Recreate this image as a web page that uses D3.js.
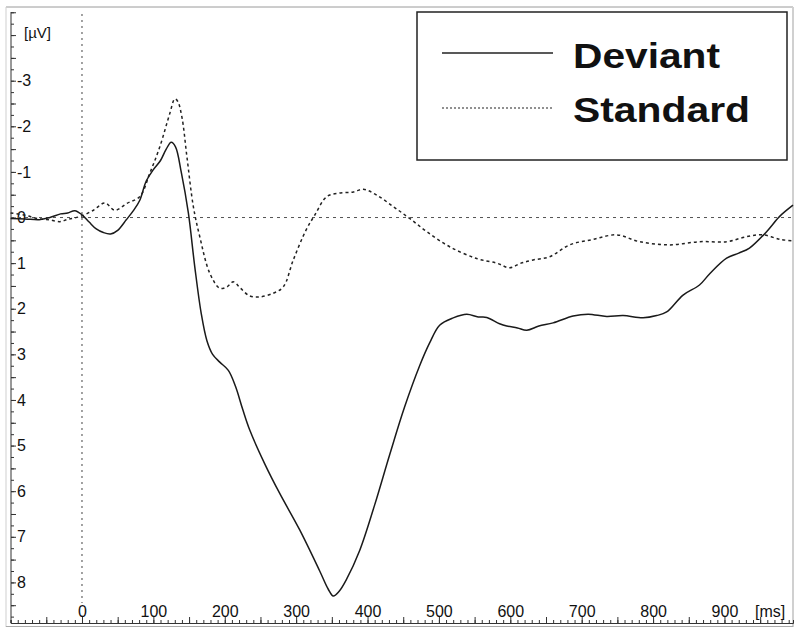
<!DOCTYPE html>
<meta charset="utf-8">
<script src="https://d3js.org/d3.v7.min.js"></script>
<style>
body { margin: 0; background: #fff; }
text { font-family: "Liberation Sans", Arial, sans-serif; fill: #111; }
.axis path, .axis line { stroke: #333; }
.axis text { font-size: 16px; fill: #111; }
</style>
<svg width="800" height="635"></svg>
<script>

// time (ms) / amplitude (µV), negative is up
var deviant = [
  [-100,0.02],[-80,0.03],[-60,0.05],[-45,0.0],[-30,-0.08],[-20,-0.1],[-10,-0.15],[0,-0.06],
  [10,0.1],[20,0.25],[30,0.33],[40,0.36],[50,0.28],[62,0.05],[72,-0.15],[81,-0.38],[90,-0.8],
  [100,-1.05],[110,-1.25],[118,-1.5],[125,-1.65],[131,-1.55],[139,-1.0],[149,-0.1],[158,1.08],
  [167,2.1],[175,2.7],[183,3.0],[193,3.17],[205,3.35],[215,3.7],[225,4.2],[235,4.66],[256,5.4],
  [277,6.05],[305,6.85],[333,7.75],[345,8.15],[352,8.3],[360,8.2],[370,7.95],[389,7.3],[410,6.3],
  [431,5.2],[452,4.15],[473,3.25],[487,2.75],[501,2.36],[520,2.2],[539,2.12],[555,2.18],[567,2.19],
  [585,2.33],[595,2.38],[610,2.42],[623,2.47],[640,2.38],[660,2.31],[688,2.16],[709,2.12],
  [735,2.17],[758,2.15],[786,2.2],[805,2.15],[819,2.07],[842,1.7],[865,1.48],[880,1.22],
  [903,0.89],[920,0.78],[935,0.67],[959,0.31],[977,-0.02],[996,-0.27]
];

var standard = [
  [-100,-0.1],[-80,-0.05],[-60,0.03],[-45,0.05],[-31,0.09],[-20,0.04],[-3,-0.02],[16,-0.16],
  [32,-0.32],[46,-0.16],[63,-0.31],[81,-0.46],[95,-0.97],[109,-1.55],[123,-2.28],[130,-2.6],
  [134,-2.55],[140,-2.2],[147,-1.33],[156,-0.24],[165,0.42],[179,1.22],[193,1.55],[203,1.52],
  [212,1.41],[222,1.55],[235,1.72],[249,1.74],[268,1.66],[282,1.52],[296,0.93],[314,0.27],
  [326,-0.05],[343,-0.46],[362,-0.54],[380,-0.56],[394,-0.62],[413,-0.49],[436,-0.24],[459,0.02],
  [483,0.31],[515,0.64],[553,0.9],[581,1.0],[599,1.1],[615,1.0],[632,0.93],[655,0.86],[683,0.6],
  [716,0.48],[749,0.38],[781,0.53],[823,0.6],[865,0.53],[903,0.53],[931,0.42],[954,0.38],
  [978,0.48],[996,0.51]
];

var xTickLabels = [0,100,200,300,400,500,600,700,800,900];
var yTickLabels = [-3,-2,-1,0,1,2,3,4,5,6,7,8];
var seriesNames = ["Deviant","Standard"];

var svg = d3.select("svg");

// plot edges (don't call these top/left, window.top is read-only)
var plotL = 11, plotR = 793, plotT = 10, plotB = 623;

var x = d3.scaleLinear().domain([-100, 996]).range([10.6, plotR]);
var y = d3.scaleLinear().domain([-4.55, 8.89]).range([plotT, plotB]);

// outer frame
svg.append("line").attr("x1", 6).attr("x2", plotR).attr("y1", 7).attr("y2", 7)
  .attr("stroke", "#9a9a9a");
svg.append("line").attr("x1", 6).attr("x2", 6).attr("y1", 7).attr("y2", 627)
  .attr("stroke", "#cfcfcf");
svg.append("line").attr("x1", plotR).attr("x2", plotR).attr("y1", 7).attr("y2", 627)
  .attr("stroke", "#d0d0d0").attr("stroke-width", 2);
svg.append("line").attr("x1", 6).attr("x2", plotR).attr("y1", 626.5).attr("y2", 626.5)
  .attr("stroke", "#aaa");

// x axis: ticks point up into the plot
var xg = svg.append("g").attr("class", "axis").attr("transform", "translate(0," + plotB + ")");
xg.call(d3.axisTop(x).tickValues(d3.range(-100, 991, 10)).tickSize(3).tickFormat(""));
var xg2 = svg.append("g").attr("class", "axis").attr("transform", "translate(0," + plotB + ")");
xg2.call(d3.axisTop(x).tickValues(d3.range(-50, 991, 50)).tickSize(6).tickFormat(""));
xg2.select(".domain").remove();
var xg3 = svg.append("g").attr("class", "axis").attr("transform", "translate(0," + plotB + ")");
xg3.call(d3.axisTop(x).tickValues(xTickLabels).tickSize(0).tickPadding(6)
  .tickFormat(function(d) { return String(d); }));
xg3.select(".domain").remove();

// y axis: ticks point right into the plot
var yg = svg.append("g").attr("class", "axis").attr("transform", "translate(" + plotL + ",0)");
yg.call(d3.axisRight(y).tickValues(d3.range(-4.5, 8.9, 0.25)).tickSize(3).tickFormat(""));
yg.select(".domain").attr("d", "M0," + (plotT + 2) + "V" + plotB);
var yg2 = svg.append("g").attr("class", "axis").attr("transform", "translate(" + plotL + ",0)");
yg2.call(d3.axisRight(y).tickValues(d3.range(-4.5, 8.9, 0.5)).tickSize(5).tickFormat(""));
yg2.select(".domain").remove();
var yg3 = svg.append("g").attr("class", "axis").attr("transform", "translate(" + plotL + ",0)");
yg3.call(d3.axisRight(y).tickValues(yTickLabels).tickSize(0).tickPadding(6)
  .tickFormat(function(d) { return String(d); }));
yg3.select(".domain").remove();

// unit labels
svg.append("text").attr("x", 24).attr("y", 38).style("font-size", "15px").text("[µV]");
svg.append("text").attr("x", 755).attr("y", 617).style("font-size", "16px").text("[ms]");

// zero lines
svg.append("line")
  .attr("x1", plotL).attr("x2", plotR).attr("y1", y(0)).attr("y2", y(0))
  .attr("stroke", "#555").attr("stroke-dasharray", "3,4");
svg.append("line")
  .attr("x1", x(0)).attr("x2", x(0)).attr("y1", plotT + 4).attr("y2", 603)
  .attr("stroke", "#444").attr("stroke-dasharray", "2,4");

var line = d3.line()
  .x(function(d) { return x(d[0]); })
  .y(function(d) { return y(d[1]); })
  .curve(d3.curveCatmullRom);

svg.append("path").datum(standard)
  .attr("d", line).attr("fill", "none")
  .attr("stroke", "#222").attr("stroke-width", 1.5).attr("stroke-dasharray", "3,3");

svg.append("path").datum(deviant)
  .attr("d", line).attr("fill", "none")
  .attr("stroke", "#1a1a1a").attr("stroke-width", 1.5);

// legend
var lg = svg.append("g");
lg.append("rect").attr("x", 417).attr("y", 12).attr("width", 370).attr("height", 148)
  .attr("fill", "#fff").attr("stroke", "#222").attr("stroke-width", 1.5);
lg.append("line").attr("x1", 442).attr("x2", 553).attr("y1", 53).attr("y2", 53)
  .attr("stroke", "#222").attr("stroke-width", 1.5);
lg.append("line").attr("x1", 442).attr("x2", 553).attr("y1", 108).attr("y2", 108)
  .attr("stroke", "#222").attr("stroke-width", 1.2).attr("stroke-dasharray", "2,2");
lg.append("text").attr("x", 573).attr("y", 68)
  .attr("font-size", 35).attr("font-weight", "bold")
  .attr("textLength", 147).attr("lengthAdjust", "spacingAndGlyphs")
  .text(seriesNames[0]);
lg.append("text").attr("x", 573).attr("y", 122)
  .attr("font-size", 35).attr("font-weight", "bold")
  .attr("textLength", 177).attr("lengthAdjust", "spacingAndGlyphs")
  .text(seriesNames[1]);

</script>
